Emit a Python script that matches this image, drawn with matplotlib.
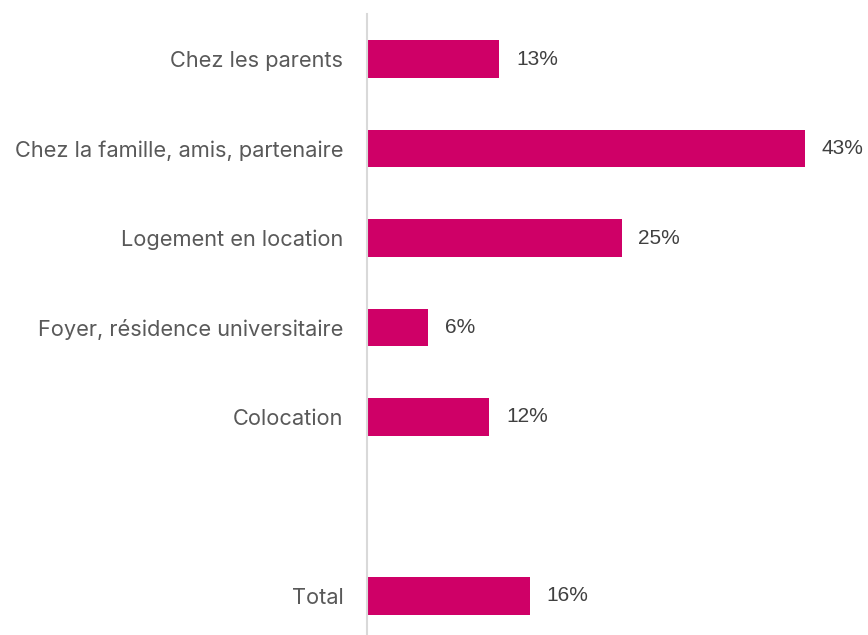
import matplotlib
matplotlib.use("Agg")
import matplotlib.pyplot as plt

categories = ["Chez les parents", "Chez la famille, amis, partenaire", "Logement en location",
              "Foyer, résidence universitaire", "Colocation", "", "Total"]
values = [0.13, 0.43, 0.25, 0.06, 0.12, None, 0.16]

bar_color = "#CF0067"
text_color = "#595959"

fig = plt.figure(figsize=(8.68, 6.35), dpi=100)
ax = fig.add_axes([367 / 868, 0, 501 / 868, 621 / 635])

pos = list(range(len(categories)))
for y, v in zip(pos, values):
    if v is None:
        continue
    ax.barh(y, v, height=0.42, color=bar_color)
    ax.annotate(f"{v:.0%}", (v, y), xytext=(12, 0), textcoords="offset points",
                va="center", ha="left", fontsize=15, color="#404040", family="Liberation Sans")

ax.set_xlim(0, 0.43 * 501 / 438)
ax.set_ylim(6.436, -0.503)
ax.set_yticks(pos)
ax.set_yticklabels(categories, fontsize=15.7, color=text_color, family="Inter")
ax.tick_params(axis="y", length=0, pad=17)
ax.set_xticks([])
for s in ["top", "right", "bottom"]:
    ax.spines[s].set_visible(False)
ax.spines["left"].set_color("#D9D9D9")
ax.spines["left"].set_linewidth(1.5)

fig.savefig("out.png", dpi=100)
